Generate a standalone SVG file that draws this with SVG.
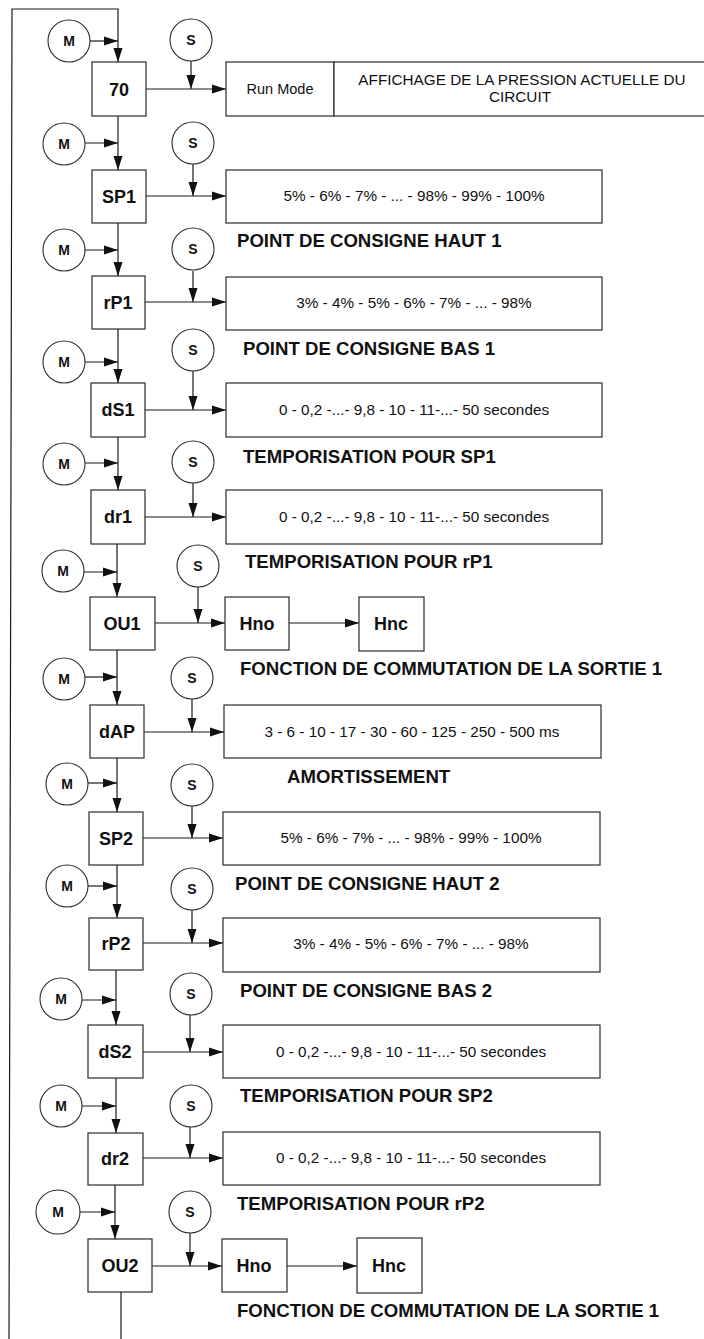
<svg xmlns="http://www.w3.org/2000/svg" width="704" height="1339" viewBox="0 0 704 1339">
<style>
.bg{fill:#fff}
.box{fill:#fff;stroke:#2a2a2a;stroke-width:1.2}
.cir{fill:#fff;stroke:#2a2a2a;stroke-width:1.1}
.ln{fill:none;stroke:#1a1a1a;stroke-width:1.2}
.nm{font-family:"Liberation Sans",Arial,sans-serif;font-weight:bold;font-size:18px;text-anchor:middle;fill:#111}
.ms{font-family:"Liberation Sans",Arial,sans-serif;font-weight:bold;font-size:14px;text-anchor:middle;fill:#111}
.val{font-family:"Liberation Sans",Arial,sans-serif;font-size:15.3px;text-anchor:middle;fill:#111}
.lab{font-family:"Liberation Sans",Arial,sans-serif;font-weight:bold;font-size:18.6px;fill:#111}
</style>
<defs>
<marker id="ah" markerUnits="userSpaceOnUse" markerWidth="15" markerHeight="11" refX="14" refY="5" orient="auto">
<path d="M0,0.5 L14,5 L0,9.5 Z" fill="#111"/>
</marker>
</defs>
<rect class="bg" x="0" y="0" width="704" height="1339"/>

<g id="connectors">
<path class="ln" d="M9,1339 L12,9 L118,9 L118,62" marker-end="url(#ah)"/>
<path class="ln" d="M90,41 L118,41" marker-end="url(#ah)"/>
<path class="ln" d="M191,61 L191,89" marker-end="url(#ah)"/>
<path class="ln" d="M146,89 L226,89" marker-end="url(#ah)"/>

<path class="ln" d="M118,116 L118,170" marker-end="url(#ah)"/>
<path class="ln" d="M85,143 L118,143" marker-end="url(#ah)"/>
<path class="ln" d="M193,164 L193,196" marker-end="url(#ah)"/>
<path class="ln" d="M146,196 L226,196" marker-end="url(#ah)"/>

<path class="ln" d="M118,223 L118,276" marker-end="url(#ah)"/>
<path class="ln" d="M85,250 L118,250" marker-end="url(#ah)"/>
<path class="ln" d="M193,271 L193,302" marker-end="url(#ah)"/>
<path class="ln" d="M145,302 L226,302" marker-end="url(#ah)"/>

<path class="ln" d="M118,329 L118,383" marker-end="url(#ah)"/>
<path class="ln" d="M85,362 L118,362" marker-end="url(#ah)"/>
<path class="ln" d="M193,371 L193,410" marker-end="url(#ah)"/>
<path class="ln" d="M145,410 L226,410" marker-end="url(#ah)"/>

<path class="ln" d="M118,437 L118,490" marker-end="url(#ah)"/>
<path class="ln" d="M85,463 L118,463" marker-end="url(#ah)"/>
<path class="ln" d="M193,483 L193,517" marker-end="url(#ah)"/>
<path class="ln" d="M145,517 L226,517" marker-end="url(#ah)"/>

<path class="ln" d="M117,544 L117,597" marker-end="url(#ah)"/>
<path class="ln" d="M84,572 L117,572" marker-end="url(#ah)"/>
<path class="ln" d="M198,587 L198,623" marker-end="url(#ah)"/>
<path class="ln" d="M155,623 L225,623" marker-end="url(#ah)"/>
<path class="ln" d="M289,623 L359,623" marker-end="url(#ah)"/>

<path class="ln" d="M117,650 L117,705" marker-end="url(#ah)"/>
<path class="ln" d="M85,677 L117,677" marker-end="url(#ah)"/>
<path class="ln" d="M192,699 L192,732" marker-end="url(#ah)"/>
<path class="ln" d="M144,732 L224,732" marker-end="url(#ah)"/>

<path class="ln" d="M117,758 L117,812" marker-end="url(#ah)"/>
<path class="ln" d="M88,783 L117,783" marker-end="url(#ah)"/>
<path class="ln" d="M192,806 L192,838" marker-end="url(#ah)"/>
<path class="ln" d="M143,838 L223,838" marker-end="url(#ah)"/>

<path class="ln" d="M117,865 L117,918" marker-end="url(#ah)"/>
<path class="ln" d="M88,886 L117,886" marker-end="url(#ah)"/>
<path class="ln" d="M192,910 L192,943" marker-end="url(#ah)"/>
<path class="ln" d="M143,943 L223,943" marker-end="url(#ah)"/>

<path class="ln" d="M116,970 L116,1025" marker-end="url(#ah)"/>
<path class="ln" d="M82,1000 L116,1000" marker-end="url(#ah)"/>
<path class="ln" d="M190,1015 L190,1052" marker-end="url(#ah)"/>
<path class="ln" d="M143,1052 L223,1052" marker-end="url(#ah)"/>

<path class="ln" d="M116,1078 L116,1133" marker-end="url(#ah)"/>
<path class="ln" d="M82,1106 L116,1106" marker-end="url(#ah)"/>
<path class="ln" d="M190,1127 L190,1158" marker-end="url(#ah)"/>
<path class="ln" d="M143,1158 L223,1158" marker-end="url(#ah)"/>

<path class="ln" d="M115,1185 L115,1239" marker-end="url(#ah)"/>
<path class="ln" d="M80,1212 L115,1212" marker-end="url(#ah)"/>
<path class="ln" d="M190,1233 L190,1266" marker-end="url(#ah)"/>
<path class="ln" d="M152,1266 L222,1266" marker-end="url(#ah)"/>
<path class="ln" d="M287,1266 L357,1266" marker-end="url(#ah)"/>
<path class="ln" d="M121,1292 L121,1339"/>
</g>

<!-- Row 1 -->
<g id="m1"><circle class="cir" cx="69" cy="41" r="21"/><text class="ms" x="69" y="46">M</text></g>
<g id="s1"><circle class="cir" cx="191" cy="40" r="21"/><text class="ms" x="191" y="45">S</text></g>
<g id="n70"><rect class="box" x="92" y="62" width="54" height="54"/><text class="nm" x="119" y="96">70</text></g>
<g id="runmode"><rect class="box" x="226" y="62" width="108" height="54"/><text class="val" x="280" y="94" style="font-size:14.5px">Run Mode</text></g>
<g id="affichage"><rect class="box" x="334" y="62" width="380" height="54"/><text class="val" x="522" y="85">AFFICHAGE DE LA PRESSION ACTUELLE DU</text><text class="val" x="520" y="102">CIRCUIT</text></g>

<!-- Row 2 -->
<g id="m2"><circle class="cir" cx="64" cy="144" r="21"/><text class="ms" x="64" y="149">M</text></g>
<g id="s2"><circle class="cir" cx="193" cy="143" r="21"/><text class="ms" x="193" y="148">S</text></g>
<g id="sp1"><rect class="box" x="92" y="170" width="54" height="53"/><text class="nm" x="119" y="203">SP1</text></g>
<g id="v-sp1"><rect class="box" x="226" y="170" width="376" height="53"/><text class="val" x="414" y="201">5% - 6% - 7% - ... - 98% - 99% - 100%</text></g>
<g id="l-sp1"><text class="lab" x="237" y="247">POINT DE CONSIGNE HAUT 1</text></g>

<!-- Row 3 -->
<g id="m3"><circle class="cir" cx="64" cy="250" r="21"/><text class="ms" x="64" y="255">M</text></g>
<g id="s3"><circle class="cir" cx="193" cy="249" r="21"/><text class="ms" x="193" y="254">S</text></g>
<g id="rp1"><rect class="box" x="92" y="276" width="53" height="53"/><text class="nm" x="118" y="309">rP1</text></g>
<g id="v-rp1"><rect class="box" x="226" y="277" width="376" height="53"/><text class="val" x="414" y="308">3% - 4% - 5% - 6% - 7% - ... - 98%</text></g>
<g id="l-rp1"><text class="lab" x="243" y="355">POINT DE CONSIGNE BAS 1</text></g>

<!-- Row 4 -->
<g id="m4"><circle class="cir" cx="64" cy="362" r="21"/><text class="ms" x="64" y="367">M</text></g>
<g id="s4"><circle class="cir" cx="193" cy="350" r="21"/><text class="ms" x="193" y="355">S</text></g>
<g id="ds1"><rect class="box" x="91" y="383" width="54" height="54"/><text class="nm" x="118" y="416">dS1</text></g>
<g id="v-ds1"><rect class="box" x="226" y="383" width="376" height="54"/><text class="val" x="414" y="415">0 - 0,2 -...- 9,8 - 10 - 11-...- 50 secondes</text></g>
<g id="l-ds1"><text class="lab" x="243" y="463">TEMPORISATION POUR SP1</text></g>

<!-- Row 5 -->
<g id="m5"><circle class="cir" cx="64" cy="464" r="21"/><text class="ms" x="64" y="469">M</text></g>
<g id="s5"><circle class="cir" cx="193" cy="462" r="21"/><text class="ms" x="193" y="467">S</text></g>
<g id="dr1"><rect class="box" x="91" y="490" width="54" height="54"/><text class="nm" x="118" y="523">dr1</text></g>
<g id="v-dr1"><rect class="box" x="226" y="490" width="376" height="54"/><text class="val" x="414" y="522">0 - 0,2 -...- 9,8 - 10 - 11-...- 50 secondes</text></g>
<g id="l-dr1"><text class="lab" x="245" y="568">TEMPORISATION POUR rP1</text></g>

<!-- Row 6 -->
<g id="m6"><circle class="cir" cx="63" cy="571" r="21"/><text class="ms" x="63" y="576">M</text></g>
<g id="s6"><circle class="cir" cx="198" cy="566" r="21"/><text class="ms" x="198" y="571">S</text></g>
<g id="ou1"><rect class="box" x="90" y="597" width="65" height="53"/><text class="nm" x="122" y="630">OU1</text></g>
<g id="hno1"><rect class="box" x="225" y="597" width="64" height="53"/><text class="nm" x="257" y="630">Hno</text></g>
<g id="hnc1"><rect class="box" x="359" y="597" width="65" height="54"/><text class="nm" x="391" y="630">Hnc</text></g>
<g id="l-ou1"><text class="lab" x="240" y="675">FONCTION DE COMMUTATION DE LA SORTIE 1</text></g>

<!-- Row 7 -->
<g id="m7"><circle class="cir" cx="64" cy="679" r="21"/><text class="ms" x="64" y="684">M</text></g>
<g id="s7"><circle class="cir" cx="192" cy="678" r="21"/><text class="ms" x="192" y="683">S</text></g>
<g id="dap"><rect class="box" x="90" y="705" width="54" height="53"/><text class="nm" x="117" y="738">dAP</text></g>
<g id="v-dap"><rect class="box" x="224" y="705" width="377" height="53"/><text class="val" x="412" y="737">3 - 6 - 10 - 17 - 30 - 60 - 125 - 250 - 500 ms</text></g>
<g id="l-dap"><text class="lab" x="287" y="783">AMORTISSEMENT</text></g>

<!-- Row 8 -->
<g id="m8"><circle class="cir" cx="67" cy="784" r="21"/><text class="ms" x="67" y="789">M</text></g>
<g id="s8"><circle class="cir" cx="192" cy="785" r="21"/><text class="ms" x="192" y="790">S</text></g>
<g id="sp2"><rect class="box" x="89" y="812" width="54" height="53"/><text class="nm" x="116" y="845">SP2</text></g>
<g id="v-sp2"><rect class="box" x="223" y="812" width="377" height="53"/><text class="val" x="411" y="843">5% - 6% - 7% - ... - 98% - 99% - 100%</text></g>
<g id="l-sp2"><text class="lab" x="235" y="890">POINT DE CONSIGNE HAUT 2</text></g>

<!-- Row 9 -->
<g id="m9"><circle class="cir" cx="67" cy="886" r="21"/><text class="ms" x="67" y="891">M</text></g>
<g id="s9"><circle class="cir" cx="192" cy="889" r="21"/><text class="ms" x="192" y="894">S</text></g>
<g id="rp2"><rect class="box" x="89" y="918" width="54" height="52"/><text class="nm" x="116" y="950">rP2</text></g>
<g id="v-rp2"><rect class="box" x="223" y="918" width="377" height="54"/><text class="val" x="411" y="949">3% - 4% - 5% - 6% - 7% - ... - 98%</text></g>
<g id="l-rp2"><text class="lab" x="240" y="997">POINT DE CONSIGNE BAS 2</text></g>

<!-- Row 10 -->
<g id="m10"><circle class="cir" cx="61" cy="999" r="21"/><text class="ms" x="61" y="1004">M</text></g>
<g id="s10"><circle class="cir" cx="191" cy="994" r="21"/><text class="ms" x="191" y="999">S</text></g>
<g id="ds2"><rect class="box" x="88" y="1025" width="55" height="53"/><text class="nm" x="115" y="1058">dS2</text></g>
<g id="v-ds2"><rect class="box" x="223" y="1025" width="377" height="53"/><text class="val" x="411" y="1057">0 - 0,2 -...- 9,8 - 10 - 11-...- 50 secondes</text></g>
<g id="l-ds2"><text class="lab" x="240" y="1102">TEMPORISATION POUR SP2</text></g>

<!-- Row 11 -->
<g id="m11"><circle class="cir" cx="61" cy="1106" r="21"/><text class="ms" x="61" y="1111">M</text></g>
<g id="s11"><circle class="cir" cx="191" cy="1106" r="21"/><text class="ms" x="191" y="1111">S</text></g>
<g id="dr2"><rect class="box" x="88" y="1133" width="55" height="52"/><text class="nm" x="115" y="1165">dr2</text></g>
<g id="v-dr2"><rect class="box" x="223" y="1132" width="377" height="53"/><text class="val" x="411" y="1163">0 - 0,2 -...- 9,8 - 10 - 11-...- 50 secondes</text></g>
<g id="l-dr2"><text class="lab" x="237" y="1210">TEMPORISATION POUR rP2</text></g>

<!-- Row 12 -->
<g id="m12"><circle class="cir" cx="58" cy="1212" r="22"/><text class="ms" x="58" y="1217">M</text></g>
<g id="s12"><circle class="cir" cx="190" cy="1212" r="21"/><text class="ms" x="190" y="1217">S</text></g>
<g id="ou2"><rect class="box" x="88" y="1239" width="64" height="53"/><text class="nm" x="120" y="1272">OU2</text></g>
<g id="hno2"><rect class="box" x="222" y="1239" width="65" height="53"/><text class="nm" x="254" y="1272">Hno</text></g>
<g id="hnc2"><rect class="box" x="357" y="1238" width="65" height="55"/><text class="nm" x="389" y="1272">Hnc</text></g>
<g id="l-ou2"><text class="lab" x="237" y="1317">FONCTION DE COMMUTATION DE LA SORTIE 1</text></g>
</svg>
